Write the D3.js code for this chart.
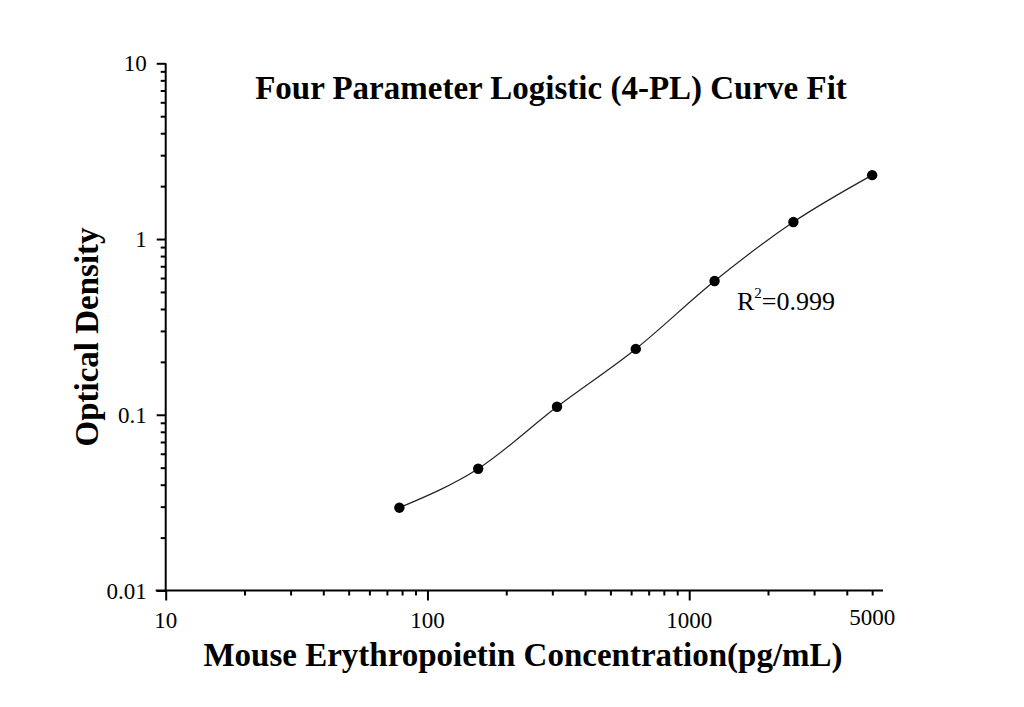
<!DOCTYPE html>
<html>
<head>
<meta charset="utf-8">
<script src="https://cdn.jsdelivr.net/npm/d3@7"></script>
<style>
  body { margin: 0; background: #fff; }
  svg { display: block; }
  text { font-family: "Liberation Serif", "Times New Roman", serif; fill: #000; }
  .axis path, .axis line { stroke: #000; stroke-width: 2; }
</style>
</head>
<body>
<svg id="chart" width="1024" height="707"></svg>
<script>
// standard concentrations (pg/mL) and measured OD
const concentrations = [78.125, 156.25, 312.5, 625, 1250, 2500, 5000];
const opticalDensity = [0.0296, 0.0493, 0.111, 0.237, 0.577, 1.249, 2.31];

const xTickLabels = [10, 100, 1000, 5000];
const yTickLabels = [0.01, 0.1, 1, 10];

const svg = d3.select('#chart');

const x = d3.scaleLog()
    .domain([10, 5500])
    .range([165.7, 883]);

const y = d3.scaleLog()
    .domain([0.01, 10])
    .range([590.5, 63.3]);

//minor ticks: 2..9 within each decade
function minorTicks(scale) {
    const [lo, hi] = scale.domain();
    const out = [];
    for (let p = Math.floor(Math.log10(lo)); p <= Math.ceil(Math.log10(hi)); p++) {
        for (let m = 2; m <= 9; m++) {
            const v = m * Math.pow(10, p);
            if (v > lo && v < hi) out.push(v);
        }
    }
    return out;
}
const xMajor = xTickLabels.filter(v => Math.log10(v) % 1 === 0);
const yMajor = yTickLabels;

//x axis
const xAxisG = svg.append('g')
    .attr('class', 'axis')
    .attr('transform', `translate(0,${y.range()[0]})`);

xAxisG.append('g')
    .call(d3.axisBottom(x).tickValues(minorTicks(x)).tickSize(5).tickFormat('').tickSizeOuter(0))
    .select('.domain').remove();

xAxisG.append('g')
    .call(d3.axisBottom(x).tickValues(xMajor).tickSize(10).tickFormat('').tickSizeOuter(0))
    .select('.domain').remove();

xAxisG.append('line')
    .attr('x1', x.range()[0] - 10)
    .attr('x2', x.range()[1])
    .attr('stroke', '#000')
    .attr('stroke-width', 2);

xAxisG.selectAll('text.xlab')
    .data(xTickLabels)
    .enter()
    .append('text')
    .attr('class', 'xlab')
    .attr('x', d => x(d))
    .attr('y', d => d === 5000 ? 34 : 37)
    .attr('text-anchor', 'middle')
    .style('font-size', '23px')
    .text(d => d);

//y axis
const yAxisG = svg.append('g')
    .attr('class', 'axis')
    .attr('transform', `translate(${x.range()[0]},0)`);

yAxisG.append('g')
    .call(d3.axisLeft(y).tickValues(minorTicks(y)).tickSize(5).tickFormat('').tickSizeOuter(0))
    .select('.domain').remove();

yAxisG.append('g')
    .call(d3.axisLeft(y).tickValues(yMajor).tickSize(9).tickFormat('').tickSizeOuter(0))
    .select('.domain').remove();

yAxisG.append('line')
    .attr('y1', y.range()[0])
    .attr('y2', y.range()[1])
    .attr('stroke', '#000')
    .attr('stroke-width', 2);

yAxisG.selectAll('text.ylab')
    .data(yTickLabels)
    .enter()
    .append('text')
    .attr('class', 'ylab')
    .attr('x', -19)
    .attr('y', d => y(d))
    .attr('dy', '0.35em')
    .attr('text-anchor', 'end')
    .style('font-size', '23px')
    .text(d => d);

//fitted curve through the standards
const points = concentrations.map((c, i) => ({ c: c, od: opticalDensity[i] }));

const line = d3.line()
    .x(d => x(d.c))
    .y(d => y(d.od))
    .curve(d3.curveMonotoneX);

svg.append('path')
    .datum(points)
    .attr('d', line)
    .attr('fill', 'none')
    .attr('stroke', '#222')
    .attr('stroke-width', 1.2);

svg.selectAll('circle.pt')
    .data(points)
    .enter()
    .append('circle')
    .attr('class', 'pt')
    .attr('cx', d => x(d.c))
    .attr('cy', d => y(d.od))
    .attr('r', 5.2)
    .attr('fill', '#000');

//titles
svg.append('text')
    .attr('x', 551)
    .attr('y', 99)
    .attr('text-anchor', 'middle')
    .style('font-size', '33px')
    .style('font-weight', 'bold')
    .text('Four Parameter Logistic (4-PL) Curve Fit');

svg.append('text')
    .attr('x', 523)
    .attr('y', 666)
    .attr('text-anchor', 'middle')
    .style('font-size', '33px')
    .style('font-weight', 'bold')
    .text('Mouse Erythropoietin Concentration(pg/mL)');

svg.append('text')
    .attr('transform', 'translate(98,337) rotate(-90)')
    .attr('text-anchor', 'middle')
    .style('font-size', '33px')
    .style('font-weight', 'bold')
    .text('Optical Density');

//R squared
const r2 = svg.append('text')
    .attr('x', 737)
    .attr('y', 310)
    .style('font-size', '26px');
r2.append('tspan').text('R');
r2.append('tspan').attr('dy', -12).style('font-size', '15px').text('2');
r2.append('tspan').attr('dy', 12).text('=0.999');
</script>
</body>
</html>
